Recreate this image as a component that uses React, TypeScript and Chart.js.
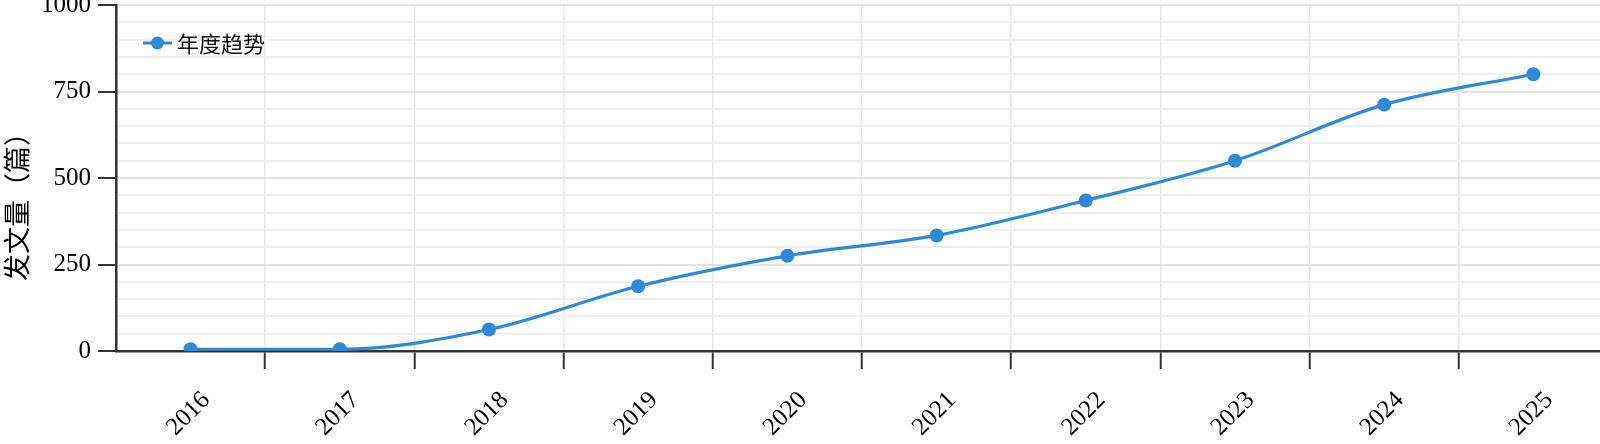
import React, { useEffect, useRef } from 'react';
import { Chart, registerables } from 'chart.js';

Chart.register(...registerables);

const years = ['2016', '2017', '2018', '2019', '2020', '2021', '2022', '2023', '2024', '2025'];
const counts = [5, 5, 62, 187, 275, 334, 435, 550, 712, 800];
const yMajorTicks = [0, 250, 500, 750, 1000];
const seriesName = '年度趋势';
const yTitle = '发文量（篇）';

const SHIFT = 20;
const CW = 1620;
const CH = 444 + SHIFT;
const LINE_COLOR = '#2E8AD8';
const AXIS_COLOR = '#333333';

const overlayPlugin = {
  id: 'overlay',
  afterDraw(chart: any) {
    const ctx = chart.ctx;
    const xs = chart.scales.x;
    ctx.save();
    // x labels (rotated, centred on category)
    ctx.fillStyle = '#000';
    ctx.font = '25px "Liberation Serif", serif';
    ctx.textAlign = 'center';
    ctx.textBaseline = 'middle';
    years.forEach((label, i) => {
      const px = xs.getPixelForValue(i);
      ctx.save();
      ctx.translate(px - 2, 414 + SHIFT);
      ctx.rotate(-Math.PI / 4);
      ctx.fillText(label, 0, 0);
      ctx.restore();
    });
    // y title
    ctx.save();
    ctx.font = '27px "Noto Sans CJK SC", sans-serif';
    ctx.fillStyle = '#000';
    ctx.translate(17, 200 + SHIFT);
    ctx.rotate(-Math.PI / 2);
    ctx.fillText(yTitle, 0, 0);
    ctx.restore();
    // legend
    const ly = 43 + SHIFT;
    ctx.strokeStyle = LINE_COLOR;
    ctx.lineWidth = 3;
    ctx.beginPath();
    ctx.moveTo(143, ly);
    ctx.lineTo(172, ly);
    ctx.stroke();
    ctx.fillStyle = LINE_COLOR;
    ctx.beginPath();
    ctx.arc(157.5, ly, 6.5, 0, Math.PI * 2);
    ctx.fill();
    ctx.fillStyle = '#111';
    ctx.font = '22px "Noto Sans CJK SC", sans-serif';
    ctx.textAlign = 'left';
    ctx.textBaseline = 'middle';
    ctx.fillText(seriesName, 177, ly + 1);
    ctx.restore();
  },
};

export default function App() {
  const ref = useRef<HTMLCanvasElement | null>(null);
  useEffect(() => {
    if (!ref.current) return;
    const chart = new Chart(ref.current, {
      type: 'line',
      data: {
        labels: years,
        datasets: [
          {
            label: seriesName,
            data: counts,
            borderColor: LINE_COLOR,
            backgroundColor: LINE_COLOR,
            borderWidth: 3.2,
            pointRadius: 7,
            pointBackgroundColor: LINE_COLOR,
            pointBorderWidth: 0,
            cubicInterpolationMode: 'monotone',
            fill: false,
          },
        ],
      },
      options: {
        animation: false,
        responsive: false,
        devicePixelRatio: 1,
        layout: { padding: { top: 5 + SHIFT, left: 0, right: CW - 1608, bottom: 0 } },
        plugins: { legend: { display: false }, tooltip: { enabled: false } },
        scales: {
          x: {
            type: 'category',
            offset: true,
            grid: {
              offset: true,
              color: '#e8e8e8',
              lineWidth: 1.5,
              drawTicks: true,
              tickLength: 18,
              tickWidth: 2,
              tickColor: (c: any) => (c.index === 0 ? 'rgba(0,0,0,0)' : AXIS_COLOR),
            },
            border: { color: AXIS_COLOR, width: 2.5 },
            ticks: { display: false },
            afterFit: (s: any) => {
              s.height = CH - (351 + SHIFT);
            },
          },
          y: {
            min: 0,
            max: 1000,
            ticks: {
              stepSize: 50,
              autoSkip: false,
              padding: 7,
              color: '#000',
              font: { family: '"Liberation Serif", serif', size: 25 },
              callback: (v: any) => (yMajorTicks.includes(Number(v)) ? String(v) : ''),
            },
            grid: {
              color: (c: any) => (c.tick && c.tick.value % 250 === 0 ? '#e3e3e3' : '#f0f0f0'),
              lineWidth: 2,
              drawTicks: true,
              tickLength: 18,
              tickWidth: 2,
              tickColor: (c: any) => (c.tick && c.tick.value % 250 === 0 ? AXIS_COLOR : 'rgba(0,0,0,0)'),
            },
            border: { color: AXIS_COLOR, width: 2.5 },
            afterFit: (s: any) => {
              s.width = 116;
            },
          },
        },
      },
      plugins: [overlayPlugin],
    });
    return () => chart.destroy();
  }, []);
  return (
    <div style={{ position: 'absolute', left: 0, top: 0, width: 1600, height: 444, overflow: 'hidden', background: '#fff' }}>
      <canvas
        ref={ref}
        width={CW}
        height={CH}
        style={{ position: 'absolute', left: 0, top: -SHIFT, width: CW, height: CH }}
      />
    </div>
  );
}
